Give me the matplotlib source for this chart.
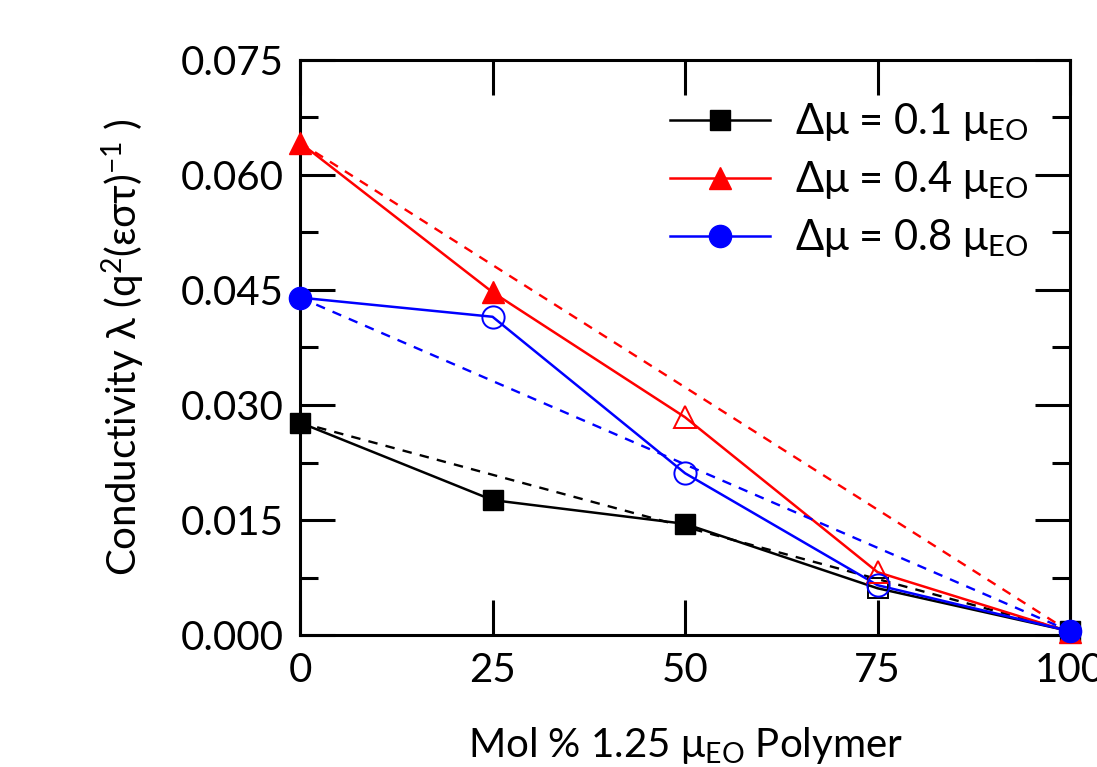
import numpy as np
import matplotlib
matplotlib.use('Agg')
import matplotlib.pyplot as plt
from matplotlib.ticker import MultipleLocator, FormatStrFormatter

plt.rcParams['font.family'] = ['Lato', 'DejaVu Sans']
plt.rcParams['mathtext.fontset'] = 'custom'
plt.rcParams['mathtext.rm'] = 'Lato'
plt.rcParams['mathtext.default'] = 'regular'

# mol % of 1.25 mu_EO polymer
x = [0, 25, 50, 75, 100]

# conductivity for each blend
y_01 = [0.0277, 0.0176, 0.0145, 0.0061, 0.0005]
y_04 = [0.0642, 0.0447, 0.0284, 0.0082, 0.0004]
y_08 = [0.0440, 0.0415, 0.0211, 0.0065, 0.0005]

# which points are open (hollow) markers
open_01 = [False, False, False, True, False]
open_04 = [False, False, True, True, False]
open_08 = [False, True, True, True, False]

labels = [r'Δμ = 0.1 μ$_{EO}$', r'Δμ = 0.4 μ$_{EO}$', r'Δμ = 0.8 μ$_{EO}$']

fig = plt.figure(figsize=(10.97, 7.67), dpi=100)
ax = fig.add_axes([0.2735, 0.172, 0.7020, 0.750])

series = [(y_01, open_01, 'black', 's', 15),
          (y_04, open_04, 'red', '^', 16),
          (y_08, open_08, 'blue', 'o', 16)]

for (ys, op, col, mk, ms), lab in zip(series, labels):
    # ideal mixing line between pure components
    ax.plot([x[0], x[-1]], [ys[0], ys[-1]], '--', color=col, lw=1.7, dashes=(4, 3.5))
    ax.plot(x, ys, '-', color=col, lw=1.8)
    for xi, yi, o in zip(x, ys, op):
        if o:
            ax.plot(xi, yi, mk, ms=ms, mfc='none', mec=col, mew=1.4, clip_on=False, zorder=4)
        else:
            ax.plot(xi, yi, mk, ms=ms, color=col, clip_on=False, zorder=5)
    ax.plot([], [], '-', marker=mk, ms=ms, color=col, lw=1.8, label=lab)

ax.set_xlim(0, 100)
ax.set_ylim(0, 0.075)
ax.xaxis.set_major_locator(MultipleLocator(25))
ax.yaxis.set_major_locator(MultipleLocator(0.015))
ax.yaxis.set_minor_locator(MultipleLocator(0.0075))
ax.yaxis.set_major_formatter(FormatStrFormatter('%.3f'))

ax.tick_params(which='both', direction='in', top=True, right=True, width=2.2, labelsize=29)
ax.tick_params(which='major', length=25, pad=12)
ax.tick_params(which='minor', length=13)
for s in ax.spines.values():
    s.set_linewidth(2.2)

ax.set_xlabel(r'Mol % 1.25 μ$_{EO}$ Polymer', fontsize=29, labelpad=26)
ax.set_ylabel(r'Conductivity λ (q$^{2}$(εστ)$^{-1}$ )', fontsize=29, labelpad=24)

ax.legend(loc='upper right', frameon=False, fontsize=30, handlelength=2.4,
          borderaxespad=0.6, labelspacing=0.38, handletextpad=0.6)

fig.savefig('out.png', dpi=100)
